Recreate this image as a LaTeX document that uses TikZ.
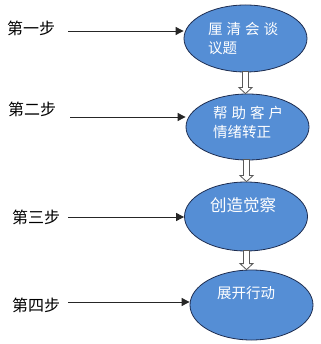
\documentclass[tikz,border=0pt]{standalone}
\usepackage{fontspec}
\newfontfamily\cjk{Noto Sans CJK SC}
\usetikzlibrary{shapes.geometric,arrows.meta,calc}
\definecolor{ellfill}{RGB}{85,142,213}
\definecolor{elldraw}{RGB}{30,45,80}
\tikzset{
  stepell/.style={ellipse, draw=elldraw, line width=0.8pt, fill=ellfill, inner sep=0pt, minimum width=123pt},
  steptext/.style={anchor=west, text=white, font=\cjk\fontsize{14.5}{19}\selectfont, align=left, inner sep=0pt},
  steplabel/.style={anchor=west, text=black, font=\cjk\fontsize{16}{18}\selectfont, inner sep=0pt},
  pointer/.style={draw=black!85, line width=0.9pt, -{Triangle[length=8pt,width=8pt]}},
  hollow/.style={draw=black!65, fill=white, line width=0.8pt}
}
\newcommand{\blockarrow}[2]{%
  \path[hollow] ($(#1)+(-3,0)$) -- ($(#2)+(-3,-6)$) -- ($(#2)+(-6.5,-6)$) -- (#2) -- ($(#2)+(6.5,-6)$) -- ($(#2)+(3,-6)$) -- ($(#1)+(3,0)$) -- cycle;}
\begin{document}
\begin{tikzpicture}[x=1pt,y=-1pt]
\useasboundingbox (0,0) rectangle (320,344);
\node[stepell, minimum height=67pt] (e1) at (245.5,38.5) {};
\node[stepell, minimum height=66pt] (e2) at (247.5,127) {};
\node[stepell, minimum height=69pt] (e3) at (246,216.5) {};
\node[stepell, minimum height=70pt] (e4) at (251.5,305) {};

\node[steptext] (t1) at (208,39) {厘\hspace{4pt}清\hspace{4pt}会\hspace{4pt}谈\\议题};
\node[steptext] (t2) at (213,122.5) {帮\hspace{4pt}助\hspace{4pt}客\hspace{4pt}户\\情绪转正};
\node[steptext, font=\cjk\fontsize{16.5}{19}\selectfont] (t3) at (210,205.5) {创造觉察};
\node[steptext] (t4) at (217,293) {展开行动};

\node[steplabel] (l1) at (7,28) {第一步};
\node[steplabel] (l2) at (8,109) {第二步};
\node[steplabel] (l3) at (12,217) {第三步};
\node[steplabel] (l4) at (12,305) {第四步};

\coordinate (s1) at (68,31);
\coordinate (s2) at (70,117);
\coordinate (s3) at (68,217);
\coordinate (s4) at (68,302);
\draw[pointer] (s1) -- (s1 -| e1.west);
\draw[pointer] (s2) -- (s2 -| e2.west);
\draw[pointer] (s3) -- (s3 -| e3.west);
\draw[pointer] (s4) -- (s4 -| e4.west);

\coordinate (a1s) at (245.5,71.5);
\coordinate (a1e) at (a1s |- e2.north);
\coordinate (a2s) at (246.5,159.5);
\coordinate (a2e) at (a2s |- e3.north);
\coordinate (a3s) at (246.5,250.5);
\coordinate (a3e) at (a3s |- e4.north);
\blockarrow{a1s}{a1e}
\blockarrow{a2s}{a2e}
\blockarrow{a3s}{a3e}
\end{tikzpicture}
\end{document}
